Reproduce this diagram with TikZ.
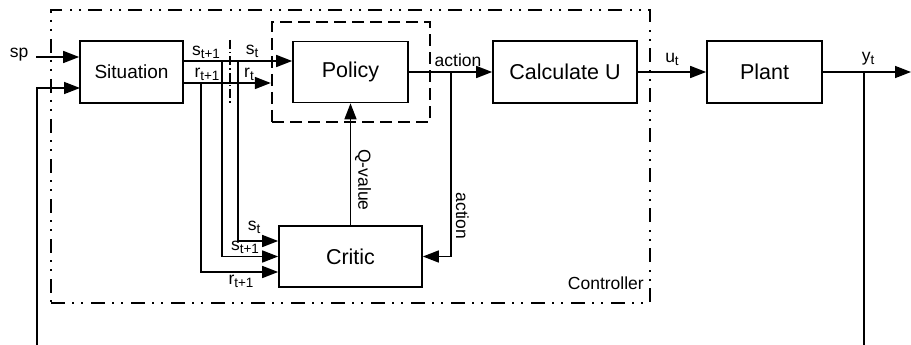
\documentclass[tikz,border=0pt]{standalone}
\usepackage{fontspec}
\setmainfont{Liberation Sans}
\usetikzlibrary{arrows.meta}
\newcommand\lsub[1]{\raisebox{-3pt}{\fontsize{13.5}{14}\selectfont #1}}
\begin{document}
\begin{tikzpicture}[x=1pt,y=-1pt,
  blk/.style={draw,line width=1.7pt,rectangle,inner sep=0pt,font=\fontsize{21.5}{24}\selectfont},
  conn/.style={line width=1.6pt},
  arr/.style={conn,-{Triangle[length=16pt,width=12pt]}},
  lbl/.style={inner sep=0pt,font=\fontsize{17.5}{20}\selectfont},
  ctrlbox/.style={draw,line width=2.4pt,rectangle,inner sep=0pt,
    dash pattern=on 14pt off 7pt on 2pt off 7pt on 2pt off 8pt},
  polbox/.style={draw,line width=2.4pt,rectangle,inner sep=0pt,
    dash pattern=on 12pt off 6pt},
  sepline/.style={line width=1.5pt,dash pattern=on 9pt off 3pt on 1.5pt off 3pt}]
\useasboundingbox (0,0) rectangle (911,345);
% frames
\node[ctrlbox,minimum width=599pt,minimum height=293pt] (ctrl) at (350.5,156.5) {};
\node[polbox,minimum width=158pt,minimum height=100pt] (pbox) at (351,72) {};
% blocks
\node[blk,minimum width=103pt,minimum height=62pt,font=\fontsize{19}{22}\selectfont] (sit) at (131.5,72) {Situation};
\node[blk,minimum width=115pt,minimum height=61pt] (pol) at (350.5,72) {Policy};
\node[blk,minimum width=144pt,minimum height=62pt] (calc) at (565,72) {Calculate U};
\node[blk,minimum width=115pt,minimum height=62pt] (plant) at (764.5,72) {Plant};
\node[blk,minimum width=143pt,minimum height=61pt] (crit) at (350.5,256.5) {Critic};
% coordinates
\coordinate (spin) at (36,57);
\coordinate (fbL) at (37,345);
\coordinate (fbT) at (80,88);
\coordinate (brR) at (201,83);
\coordinate (brS1) at (222,61);
\coordinate (brS0) at (238,61);
\coordinate (abr) at (451,72);
\coordinate (yout) at (911,72);
\coordinate (ybr) at (864,72);
\coordinate (ybot) at (864,345);
\coordinate (sepT) at (230,40);
\coordinate (sepB) at (230,104);
% separator
\draw[sepline] (sepT) -- (sepB);
% inputs to situation
\node[lbl] (sp) at (19,55) {sp};
\draw[arr] (spin) -- (sit.west |- spin);
\draw[arr] (fbL) |- (fbT);
% situation outputs
\draw[arr] (sit.east |- brS1) -- (pol.west |- brS1);
\draw[arr] (sit.east |- brR) -- (pbox.west |- brR);
\draw[arr] (brR) |- (crit.west |- 0,272);
\draw[arr] (brS1) |- (crit.west |- 0,256.5);
\draw[arr] (brS0) |- (crit.west |- 0,241);
% Q-value
\draw[arr] (crit.north) -- (pol.south);
\node[lbl,rotate=-90] (qv) at (363,180) {Q-value};
% action
\draw[arr] (pol.east) -- (calc.west);
\draw[arr] (abr) |- (crit.east);
\node[lbl] (act1) at (458,60) {action};
\node[lbl,rotate=-90] (act2) at (462.5,216) {action};
% plant
\draw[arr] (calc.east) -- (plant.west);
\draw[arr] (plant.east) -- (yout);
\draw[conn] (ybr) -- (ybot);
\node[lbl] (ut) at (672,59) {u\lsub{t}};
\node[lbl] (yt) at (868,59) {y\lsub{t}};
% labels on s/r lines
\node[lbl] (ls1) at (206,52) {s\lsub{t+1}};
\node[lbl] (lr1) at (207,74) {r\lsub{t+1}};
\node[lbl] (ls0) at (252,51) {s\lsub{t}};
\node[lbl] (lr0) at (249,74) {r\lsub{t}};
\node[lbl] (cs0) at (254,227) {s\lsub{t}};
\node[lbl] (cs1) at (245,247) {s\lsub{t+1}};
\node[lbl] (cr1) at (241,281) {r\lsub{t+1}};
\node[lbl,anchor=east] (ctl) at (644,283) {Controller};
\end{tikzpicture}
\end{document}
